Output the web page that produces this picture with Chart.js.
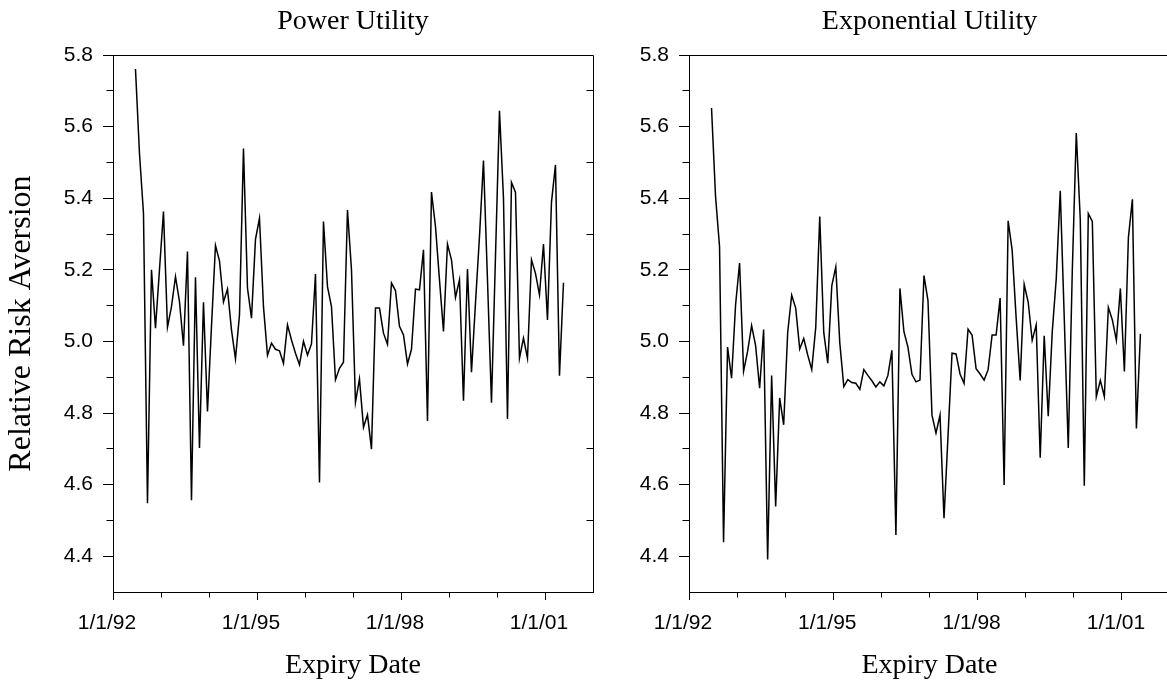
<!DOCTYPE html>
<html>
<head>
<meta charset="utf-8">
<script src="https://cdn.jsdelivr.net/npm/chart.js@4.4.1/dist/chart.umd.min.js"></script>
<style>
  html, body { margin: 0; padding: 0; background: #fff; overflow: hidden; width: 1167px; height: 698px; }
  canvas { position: absolute; top: 0; }
  #power { left: 0; }
  #expo { left: 620px; }
</style>
</head>
<body>
<canvas id="power" width="620" height="698"></canvas>
<canvas id="expo" width="555" height="698"></canvas>
<script>
// ---- Data ----
// monthly expiries, June 1992 .. May 2001 (108 months)
const firstYear = 1992;
const firstMonth = 6;
const monthCount = 108;

const powerRRA = [
  5.761, 5.525, 5.358, 4.548, 5.200, 5.037, 5.200, 5.363, 5.040, 5.097,
  5.181, 5.111, 4.988, 5.251, 4.556, 5.179, 4.702, 5.109, 4.804, 5.042,
  5.268, 5.225, 5.110, 5.146, 5.032, 4.951, 5.074, 5.539, 5.149, 5.065,
  5.285, 5.344, 5.097, 4.961, 4.995, 4.978, 4.974, 4.939, 5.046, 5.004,
  4.967, 4.935, 5.000, 4.962, 4.993, 5.188, 4.606, 5.335, 5.153, 5.097,
  4.893, 4.925, 4.942, 5.367, 5.200, 4.830, 4.895, 4.760, 4.795, 4.699,
  5.093, 5.093, 5.023, 4.992, 5.163, 5.142, 5.042, 5.018, 4.937, 4.978,
  5.146, 5.144, 5.256, 4.778, 5.417, 5.321, 5.172, 5.028, 5.272, 5.228,
  5.123, 5.172, 4.834, 5.202, 4.914, 5.107, 5.293, 5.505, 5.172, 4.829,
  5.237, 5.644, 5.400, 4.783, 5.444, 5.417, 4.953, 5.009, 4.953, 5.228,
  5.190, 5.130, 5.272, 5.060, 5.389, 5.493, 4.904, 5.164
];

const expoRRA = [
  5.652, 5.405, 5.265, 4.439, 4.984, 4.897, 5.102, 5.219, 4.917, 4.972,
  5.044, 4.988, 4.869, 5.033, 4.391, 4.905, 4.539, 4.842, 4.767, 5.025,
  5.129, 5.093, 4.979, 5.008, 4.962, 4.921, 5.039, 5.349, 5.025, 4.939,
  5.155, 5.208, 4.996, 4.874, 4.893, 4.885, 4.883, 4.866, 4.921, 4.905,
  4.890, 4.873, 4.887, 4.876, 4.905, 4.975, 4.459, 5.148, 5.027, 4.984,
  4.908, 4.887, 4.892, 5.184, 5.114, 4.794, 4.744, 4.794, 4.506, 4.736,
  4.967, 4.965, 4.909, 4.883, 5.034, 5.018, 4.924, 4.909, 4.892, 4.921,
  5.018, 5.018, 5.121, 4.599, 5.337, 5.255, 5.065, 4.891, 5.159, 5.110,
  5.003, 5.046, 4.675, 5.016, 4.791, 5.026, 5.175, 5.421, 5.065, 4.702,
  5.195, 5.582, 5.340, 4.597, 5.357, 5.335, 4.846, 4.891, 4.846, 5.095,
  5.060, 5.003, 5.148, 4.916, 5.290, 5.397, 4.757, 5.021
];

const xTickValues = [1992, 1995, 1998, 2001];
const xTickLabels = ['1/1/92', '1/1/95', '1/1/98', '1/1/01'];
const xMinorTicks = [1993, 1994, 1996, 1997, 1999, 2000];
const yTickValues = [4.4, 4.6, 4.8, 5.0, 5.2, 5.4, 5.6, 5.8];
const yMinorTicks = [4.5, 4.7, 4.9, 5.1, 5.3, 5.5, 5.7];

// expiry dates as decimal years (third week of each month)
const expiryDates = [];
for (let i = 0; i < monthCount; i++) {
    const m = firstMonth - 1 + i;
    expiryDates.push(firstYear + (m + 0.62) / 12);
}

// ---- Styling ----
const serif = "'Liberation Serif', 'Times New Roman', serif";
const sans = "'Liberation Sans', Arial, sans-serif";
Chart.defaults.font.family = sans;
Chart.defaults.color = '#000';

const crisp = v => Math.round(v - 0.5) + 0.5;

// frame on top/right, short minor ticks, inward ticks on right edge
const frameTicks = {
    id: 'frameTicks',
    afterDraw(chart, args, opts) {
        const { ctx, chartArea: a, scales: { x, y } } = chart;
        const l = crisp(a.left), r = crisp(a.right), t = crisp(a.top), b = crisp(a.bottom);
        ctx.save();
        ctx.strokeStyle = '#000';
        ctx.lineWidth = 1;
        ctx.beginPath();
        ctx.moveTo(l, t);
        ctx.lineTo(r, t);
        ctx.lineTo(r, b);
        yMinorTicks.forEach(v => {
            const p = crisp(y.getPixelForValue(v));
            ctx.moveTo(l - 7, p);
            ctx.lineTo(l, p);
            if (opts.rightTicks) {
                ctx.moveTo(r - 7, p);
                ctx.lineTo(r, p);
            }
        });
        xMinorTicks.forEach(v => {
            const p = crisp(x.getPixelForValue(v));
            ctx.moveTo(p, b);
            ctx.lineTo(p, b + 5);
        });
        ctx.stroke();
        ctx.restore();
    }
};

function makeChart(id, title, values, axisWidth, padRight, showYTitle) {
    return new Chart(document.getElementById(id), {
        type: 'line',
        data: {
            datasets: [{
                data: values.map((v, i) => ({ x: expiryDates[i], y: v })),
                borderColor: '#000',
                borderWidth: 1.5,
                pointRadius: 0,
                tension: 0,
                fill: false
            }]
        },
        options: {
            responsive: false,
            animation: false,
            events: [],
            layout: { padding: { left: 0, right: padRight, top: 0, bottom: 0 } },
            plugins: {
                legend: { display: false },
                tooltip: { enabled: false },
                frameTicks: { rightTicks: showYTitle },
                title: {
                    display: true,
                    text: title,
                    fullSize: false,
                    color: '#000',
                    font: { family: serif, size: 28, weight: 'normal', lineHeight: 1.2 },
                    padding: { top: 5.2, bottom: 16.2 }
                }
            },
            scales: {
                x: {
                    type: 'linear',
                    min: 1992,
                    max: 2002,
                    afterBuildTicks: s => { s.ticks = xTickValues.map(v => ({ value: v })); },
                    afterFit: s => { s.height = 106; },
                    ticks: {
                        callback: v => xTickLabels[xTickValues.indexOf(v)],
                        font: { size: 21 },
                        color: '#000',
                        padding: 11,
                        labelOffset: -6,
                        maxRotation: 0,
                        autoSkip: false
                    },
                    grid: { drawOnChartArea: false, tickLength: 8, tickColor: '#000' },
                    border: { color: '#000', width: 1 },
                    title: {
                        display: true,
                        text: 'Expiry Date',
                        color: '#000',
                        font: { family: serif, size: 28, weight: 'normal', lineHeight: 1.2 },
                        padding: { top: 0, bottom: 16 }
                    }
                },
                y: {
                    min: 4.3,
                    max: 5.8,
                    afterBuildTicks: s => { s.ticks = yTickValues.map(v => ({ value: v })); },
                    afterFit: s => { s.width = axisWidth; },
                    ticks: {
                        callback: v => v.toFixed(1),
                        font: { size: 21 },
                        color: '#000',
                        padding: 10
                    },
                    grid: { drawOnChartArea: false, tickLength: 10, tickColor: '#000' },
                    border: { color: '#000', width: 1 },
                    title: {
                        display: showYTitle,
                        text: 'Relative Risk Aversion',
                        color: '#000',
                        font: { family: serif, size: 32, weight: 'normal', lineHeight: 1.2 },
                        padding: { top: 2.8, bottom: 0 }
                    }
                }
            }
        },
        plugins: [frameTicks]
    });
}

makeChart('power', 'Power Utility', powerRRA, 113, 27, true);
makeChart('expo', 'Exponential Utility', expoRRA, 69, 5, false);
</script>
</body>
</html>
